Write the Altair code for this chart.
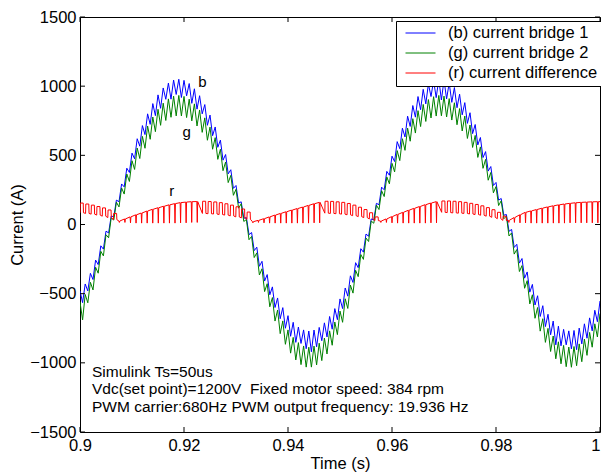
import altair as alt
import pandas as pd

# ---------------- data ----------------
# currents sampled every 0.5 ms from t = 0.9 s
T_START = 0.9
T_STEP = 0.0005

blue_vals = [
    -480, -565, -430, -480, -353, -398, -257, -290, -154, -178,
    -48, -61, 61, 56, 176, 165, 293, 272, 407, 376,
    516, 475, 620, 566, 715, 650, 800, 724, 874, 787,
    937, 840, 987, 905, 1022, 906, 1044, 940, 1050, 918,
    1042, 930, 1019, 876, 981, 834, 931, 800, 867, 717,
    791, 642, 705, 558, 610, 465, 506, 366, 396, 261,
    282, 155, 164, 45, 50, -73, -58, -189, -164, -302,
    -266, -409, -362, -508, -451, -600, -531, -681, -601, -750,
    -659, -808, -707, -852, -741, -860, -762, -898, -770, -920,
    -763, -884, -744, -840, -711, -813, -665, -757, -608, -688,
    -538, -608, -459, -518, -371, -419, -276, -312, -175, -200,
    -69, -85, 40, 33, 153, 143, 270, 251, 384, 356,
    494, 455, 599, 548, 696, 633, 783, 709, 860, 776,
    925, 830, 977, 872, 1016, 925, 1040, 917, 1050, 900,
    1044, 908, 1024, 883, 990, 844, 942, 793, 881, 731,
    808, 657, 723, 575, 629, 484, 527, 386, 419, 282,
    304, 176, 188, 67, 72, -49, -36, -166, -143, -279,
    -246, -388, -343, -489, -433, -582, -515, -665, -587, -738,
    -649, -797, -698, -870, -735, -877, -758, -870, -769, -899,
    -766, -905, -749, -863, -718, -822, -675, -769, -620, -703,
    -553,
]

green_vals = [
    -560, -690, -506, -566, -418, -473, -309, -352, -194, -227,
    -74, -96, 48, 32, 161, 127, 264, 220, 365, 311,
    461, 398, 553, 477, 637, 551, 712, 616, 777, 671,
    833, 717, 877, 752, 908, 775, 928, 785, 933, 785,
    926, 773, 906, 749, 872, 712, 828, 666, 771, 609,
    704, 544, 628, 471, 544, 389, 452, 303, 355, 211,
    254, 118, 150, 22, 36, -110, -86, -239, -205, -365,
    -320, -485, -428, -595, -528, -698, -618, -789, -697, -866,
    -762, -930, -816, -979, -854, -1013, -878, -1031, -887, -1031,
    -879, -1015, -858, -984, -821, -936, -769, -873, -705, -796,
    -626, -707, -537, -607, -438, -496, -331, -377, -217, -252,
    -98, -123, 25, 9, 140, 108, 244, 202, 344, 294,
    442, 380, 534, 462, 620, 536, 697, 602, 765, 661,
    823, 708, 868, 745, 903, 770, 924, 784, 933, 786,
    928, 777, 910, 755, 880, 721, 838, 676, 784, 622,
    719, 557, 644, 485, 561, 406, 471, 320, 376, 229,
    274, 137, 171, 41, 61, -83, -61, -214, -181, -340,
    -297, -461, -406, -574, -508, -678, -600, -771, -681, -852,
    -751, -918, -806, -971, -848, -1007, -874, -1028, -886, -1032,
    -882, -1021, -863, -992, -828, -946, -780, -887, -718, -813,
    -643,
]

# current difference: one entry per PWM tooth (P = square pulse, S = spike)
RED_START = 0.9
RED_STEP = 0.00107
red_kind = (["P"] * 7 + ["S"] * 15 + ["P"] * 9 + ["S"] * 13 +
            ["P"] * 10 + ["S"] * 11 + ["P"] * 12 + ["S"] * 18)
red_top = [
    155, 148, 140, 130, 120, 105, 80,
    25, 40, 55, 70, 83, 97, 110, 121, 132, 142, 151, 158, 162, 165, 166,
    168, 166, 163, 158, 150, 140, 128, 112, 90,
    20, 30, 42, 55, 68, 80, 92, 104, 115, 126, 138, 150, 160,
    168, 167, 164, 160, 152, 140, 125, 108, 85, 55,
    25, 40, 57, 73, 88, 103, 117, 130, 143, 155, 165,
    170, 170, 168, 165, 160, 153, 145, 135, 122, 107, 88, 60,
    30, 50, 70, 88, 98, 108, 118, 127, 135, 142, 148, 153, 157, 160, 162, 164, 165, 166,
]
red_bottom = [
    85, 80, 75, 68, 60, 50, 35,
    15, 15, 12, 10, 10, 10, 10, 10, 10, 10, 10, 12, 12, 15, 15,
    80, 78, 76, 72, 68, 62, 55, 48, 38,
    12, 15, 12, 10, 10, 10, 10, 10, 10, 10, 10, 12, 12,
    82, 80, 78, 75, 70, 64, 57, 50, 40, 28,
    15, 15, 12, 10, 10, 10, 10, 10, 10, 12, 12,
    88, 86, 84, 82, 80, 76, 72, 67, 60, 52, 42, 30,
    15, 15, 12, 12, 10, 10, 10, 10, 10, 10, 10, 12, 12, 12, 12, 12, 12, 12,
]

x_ticks = [0.9, 0.92, 0.94, 0.96, 0.98, 1.0]
y_ticks = [-1500, -1000, -500, 0, 500, 1000, 1500]

series_names = ["(b) current bridge 1", "(g) current bridge 2", "(r) current difference"]
series_colors = ["#0000ff", "#008000", "#ff0000"]

note_lines = [
    "Simulink Ts=50us",
    "Vdc(set point)=1200V\u00a0 Fixed motor speed: 384 rpm",
    "PWM carrier:680Hz PWM output frequency: 19.936 Hz",
]
note_x = [0.9023, 0.9023, 0.9023]
note_y = [-1100, -1227, -1352]

tag_text = ["b", "g", "r"]
tag_x = [0.92353, 0.9205, 0.91765]
tag_y = [1032, 668, 241]

# ---------------- build tables ----------------
rows = []
for i, v in enumerate(blue_vals):
    rows.append((round(T_START + i * T_STEP, 6), v, series_names[0], i))
for i, v in enumerate(green_vals):
    rows.append((round(T_START + i * T_STEP, 6), v, series_names[1], i))
o = 0
for k, (kind, top, bot) in enumerate(zip(red_kind, red_top, red_bottom)):
    t = RED_START + k * RED_STEP
    if kind == "S":
        pts = [(t, top), (t + 0.00008, bot), (t + 0.00016, top)]
    else:
        pts = [(t, bot), (t + 0.00005, top), (t + 0.00062, top), (t + 0.00067, bot)]
    for tt, vv in pts:
        rows.append((round(tt, 6), vv, series_names[2], o))
        o += 1
df = pd.DataFrame(rows, columns=["t", "v", "s", "o"])

xt = pd.DataFrame({"t": x_ticks})
yt = pd.DataFrame({"v": y_ticks})
notes = pd.DataFrame({"t": note_x, "v": note_y, "txt": note_lines})
tags = pd.DataFrame({"t": tag_x, "v": tag_y, "txt": tag_text})

# ---------------- chart ----------------
W, H = 520, 415
FONT = "Liberation Sans"
TL = 5
xsc = alt.Scale(domain=[0.9, 1.0], nice=False, zero=False)
ysc = alt.Scale(domain=[-1500, 1500], nice=False, zero=False)
x_axis = alt.Axis(values=x_ticks, format="~g", title="Time (s)",
                  labelPadding=5, titlePadding=2,
                  labelAlign=alt.ExprRef("datum.value >= 1 ? 'right' : 'center'"),
                  labelFlush=False, labelOverlap=False)
y_axis = alt.Axis(values=y_ticks, format="d", title="Current (A)",
                  labelPadding=4, titlePadding=4,
                  labelFlush=False, labelOverlap=False)
X = alt.X("t:Q", scale=xsc, axis=x_axis)
Y = alt.Y("v:Q", scale=ysc, axis=y_axis)

lines = alt.Chart(df).mark_line(strokeWidth=1, clip=True).encode(
    x=X, y=Y,
    color=alt.Color("s:N",
                    scale=alt.Scale(domain=series_names, range=series_colors),
                    legend=alt.Legend(title=None, orient="none", legendX=316, legendY=4,
                                      symbolType="stroke", symbolSize=900,
                                      symbolStrokeWidth=1, symbolOffset=5,
                                      clipHeight=16, rowPadding=3,
                                      labelFont=FONT, labelFontSize=16.5,
                                      labelColor="black", labelOffset=12,
                                      labelLimit=400, padding=4,
                                      strokeColor="black", fillColor="white",
                                      cornerRadius=0)),
    order=alt.Order("o:Q"),
)

x_bottom = alt.Chart(xt).mark_rule(color="black", strokeWidth=1).encode(
    x=X, y=alt.value(H), y2=alt.value(H - TL))
x_top = alt.Chart(xt).mark_rule(color="black", strokeWidth=1).encode(
    x=X, y=alt.value(0), y2=alt.value(TL))
y_left = alt.Chart(yt).mark_rule(color="black", strokeWidth=1).encode(
    y=Y, x=alt.value(0), x2=alt.value(TL))
y_right = alt.Chart(yt).mark_rule(color="black", strokeWidth=1).encode(
    y=Y, x=alt.value(W), x2=alt.value(W - TL))

note_layer = alt.Chart(notes).mark_text(
    align="left", baseline="alphabetic", font=FONT, fontSize=15.5, color="black"
).encode(x=X, y=Y, text="txt:N")

tag_layer = alt.Chart(tags).mark_text(
    align="center", baseline="middle", font=FONT, fontSize=15, color="black"
).encode(x=X, y=Y, text="txt:N")

chart = alt.layer(lines, x_bottom, x_top, y_left, y_right, note_layer, tag_layer).properties(
    width=W, height=H,
    autosize=alt.AutoSizeParams(type="none"),
    padding={"left": 72, "top": 9, "right": 1, "bottom": 40},
    background="white",
).configure_view(
    stroke="black", strokeWidth=1
).configure_axis(
    grid=False, domain=False, ticks=False,
    labelFont=FONT, labelFontSize=16.5, labelColor="black",
    titleFont=FONT, titleFontSize=16.5, titleFontWeight="normal", titleColor="black",
)

chart.save("out.html", embed_options={"renderer": "svg", "actions": False})
